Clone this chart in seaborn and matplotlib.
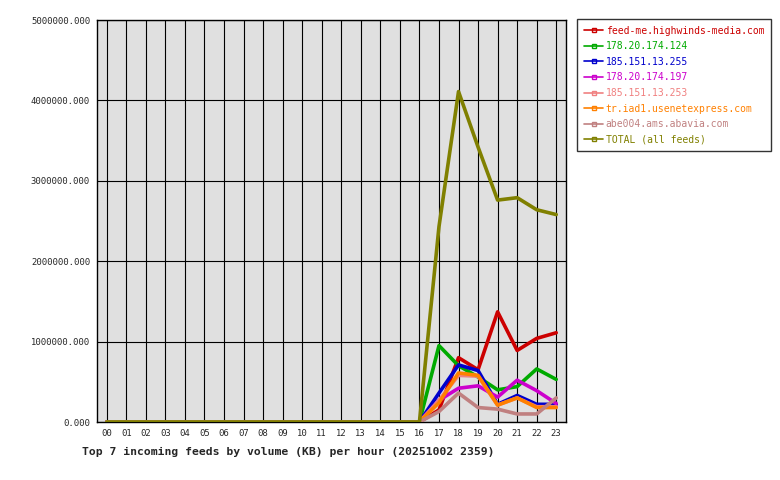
import matplotlib
matplotlib.use("Agg")
import matplotlib.pyplot as plt
import seaborn as sns
import pandas as pd
from matplotlib.lines import Line2D

hours = ["00", "01", "02", "03", "04", "05", "06", "07", "08", "09", "10", "11",
         "12", "13", "14", "15", "16", "17", "18", "19", "20", "21", "22", "23"]

z16 = [0] * 17
feed_me = z16 + [150000, 800000, 650000, 1370000, 890000, 1040000, 1110000]
ip_124 = z16 + [950000, 700000, 560000, 400000, 440000, 660000, 530000]
ip_255 = z16 + [360000, 710000, 640000, 220000, 330000, 220000, 220000]
ip_197 = z16 + [270000, 420000, 450000, 310000, 520000, 390000, 230000]
ip_253 = z16 + [270000, 580000, 570000, 210000, 300000, 190000, 190000]
usenetexpress = z16 + [240000, 610000, 580000, 210000, 300000, 180000, 180000]
abavia = z16 + [130000, 360000, 180000, 160000, 100000, 100000, 300000]
total = z16 + [2430000, 4110000, 3420000, 2760000, 2790000, 2640000, 2580000]

feeds = ["feed-me.highwinds-media.com", "178.20.174.124", "185.151.13.255",
         "178.20.174.197", "185.151.13.253", "tr.iad1.usenetexpress.com",
         "abe004.ams.abavia.com", "TOTAL (all feeds)"]
series = [feed_me, ip_124, ip_255, ip_197, ip_253, usenetexpress, abavia, total]
colors = ["#cc0000", "#00aa00", "#0000cc", "#cc00cc", "#f08080", "#ff8000",
          "#c08080", "#808000"]

rows = []
for name, vals in zip(feeds, series):
    for i, v in enumerate(vals):
        rows.append({"hour": i, "feed": name, "kb": v})
df = pd.DataFrame(rows)

sns.set_style("white")
plt.rcParams["font.family"] = ["DejaVu Sans Mono"]

fig = plt.figure(figsize=(7.8, 4.8), dpi=100)
ax = fig.add_axes([97 / 780, 58 / 480, 469 / 780, 402 / 480])
ax.set_facecolor("#e0e0e0")

sns.lineplot(data=df, x="hour", y="kb", hue="feed", hue_order=feeds,
             palette=colors, linewidth=2.6, ax=ax, legend=False, zorder=3)

ax.set_xlim(-0.5, 23.5)
ax.set_ylim(0, 5000000)
ax.set_xticks(range(24))
ax.set_xticklabels(hours, fontsize=6.4)
yt = [0, 1000000, 2000000, 3000000, 4000000, 5000000]
ax.set_yticks(yt)
ax.set_yticklabels([f"{v:.3f}" for v in yt], fontsize=6.4)
ax.grid(True, color="black", linewidth=0.8)
ax.set_axisbelow(True)
for s in ax.spines.values():
    s.set_color("black")
    s.set_linewidth(1)
ax.tick_params(axis="both", length=3, color="black", pad=2)
ax.set_xlabel("")
ax.set_ylabel("")

fig.text(82 / 780, 1 - 452 / 480, "Top 7 incoming feeds by volume (KB) per hour (20251002 2359)",
         fontsize=8.2, fontweight="bold", va="center", ha="left")

handles = [Line2D([0], [0], color=c, linewidth=1.2, marker="s", markersize=2.5,
                  markerfacecolor="none", markeredgecolor=c) for c in colors]
leg = fig.legend(handles, feeds, loc="upper left",
                 bbox_to_anchor=(577 / 780, 1 - 19 / 480), fontsize=7.0,
                 frameon=True, fancybox=False, handlelength=2.0, handletextpad=0.25,
                 labelspacing=0.57, borderpad=0.7, borderaxespad=0)
leg.get_frame().set_edgecolor("black")
leg.get_frame().set_linewidth(1)
for t, c in zip(leg.get_texts(), colors):
    t.set_color(c)

fig.savefig("out.png", dpi=100)
